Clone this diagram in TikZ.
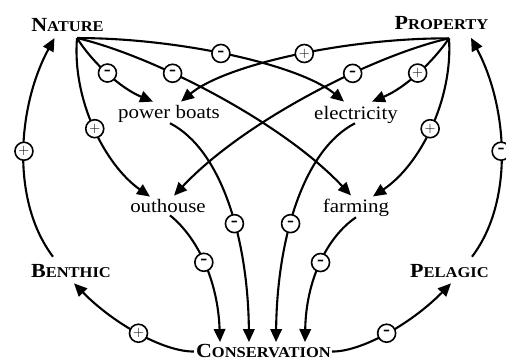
\documentclass[tikz,border=0pt]{standalone}
\usepackage{fontspec}
\setmainfont{Liberation Serif}[FakeStretch=1.1]
\usetikzlibrary{arrows.meta,calc}
% small-capital label: large initial, smaller capitals after it
\newcommand\smallcapsword[2]{\fontsize{20}{21}\selectfont#1\fontsize{15}{16}\selectfont#2}
\begin{document}
\begin{tikzpicture}[x=1pt,y=-1pt,
  term/.style={anchor=base,inner sep=3pt,font=\fontsize{19}{22}\selectfont},
  head/.style={anchor=base,inner sep=3pt,font=\bfseries},
  link/.style={line width=2.1pt,-{Triangle[length=13pt,width=11.5pt]}},
  sgn/.style={circle,draw,line width=1.6pt,fill=white,minimum size=18pt,inner sep=0pt},
  neg/.style={sgn,font=\bfseries\fontsize{19}{19}\selectfont},
  posi/.style={sgn,font=\fontsize{14}{14}\selectfont}]
\useasboundingbox (0,0) rectangle (506,361);

% value nodes
\node[head] (nature)   at (67.5,31.7) {\smallcapsword{N}{ATURE}};
\node[head] (property) at (441.5,29.5){\smallcapsword{P}{ROPERTY}};
\node[head] (be)       at (71,277)    {\smallcapsword{B}{ENTHIC}};
\node[head] (pe)       at (449.5,277) {\smallcapsword{P}{ELAGIC}};
\node[head] (co)       at (263.5,357.5) {\smallcapsword{C}{ONSERVATION}};

% activities
\node[term] (pb) at (169,118) {power boats};
\node[term] (el) at (356,119) {electricity};
\node[term] (oh) at (168,212) {outhouse};
\node[term] (fa) at (356,212) {farming};

\coordinate (natsrc)  at ($(nature.south)+(9.5,3)$);
\coordinate (propsrc) at ($(property.south)+(7.5,5.5)$);

% Nature -> activities
\draw[link] (natsrc) .. controls (92,62) and (120,88) .. ($(pb.north)+(-16,0)$) node[neg,pos=0.49]{-};
\draw[link] (natsrc) .. controls (150,55) and (280,120) .. ($(fa.north)+(-5,0)$) node[neg,pos=0.36]{-};
\draw[link] (natsrc) .. controls (180,38) and (300,65) .. ($(el.north)+(-12,-1)$) node[neg,pos=0.46]{-};
\draw[link] (natsrc) .. controls (72,100) and (105,165) .. ($(oh.north)+(-18,1)$) node[posi,pos=0.5]{$+$};

% Property -> activities
\draw[link] (propsrc) .. controls (433,62) and (405,88) .. ($(el.north)+(16,-1)$) node[posi,pos=0.49]{$+$};
\draw[link] (propsrc) .. controls (375,55) and (245,120) .. ($(oh.north)+(6,0)$) node[neg,pos=0.36]{-};
\draw[link] (propsrc) .. controls (345,38) and (225,65) .. ($(pb.north)+(12,0)$) node[posi,pos=0.46]{$+$};
\draw[link] (propsrc) .. controls (453,100) and (420,165) .. ($(fa.north)+(17,1)$) node[posi,pos=0.5]{$+$};

% activities -> Conservation
\draw[link] ($(oh.south)+(2,0)$) .. controls (197,237) and (218,280) .. ($(co.north)+(-43.5,1)$) node[neg,pos=0.49]{-};
\draw[link] ($(pb.south)+(1,-2)$) .. controls (222,150) and (248,240) .. ($(co.north)+(-14.5,1)$) node[neg,pos=0.58]{-};
\draw[link] ($(el.south)+(-1,-3)$) .. controls (303,150) and (277,240) .. ($(co.north)+(12.5,1)$) node[neg,pos=0.58]{-};
\draw[link] ($(fa.south)+(0,-2)$) .. controls (327,237) and (306,280) .. ($(co.north)+(41.5,1)$) node[neg,pos=0.49]{-};

% outer loops
\draw[link] ($(be.north)+(-18,-4)$) .. controls (10,200) and (18,105) .. ($(nature.south)+(-13,3)$) node[posi,pos=0.5]{$+$};
\draw[link] ($(pe.north)+(22.5,-4)$) .. controls (515,200) and (507,105) .. ($(property.south)+(29.5,5)$) node[neg,pos=0.5]{-};
\draw[link] ($(co.west)+(1,0.5)$) .. controls (165,352) and (115,325) .. ($(be.south)+(3,3)$) node[posi,pos=0.5]{$+$};
\draw[link] ($(co.east)+(-2,0.5)$) .. controls (360,352) and (410,325) .. ($(pe.south)+(1.5,3)$) node[neg,pos=0.5]{-};
\end{tikzpicture}
\end{document}
